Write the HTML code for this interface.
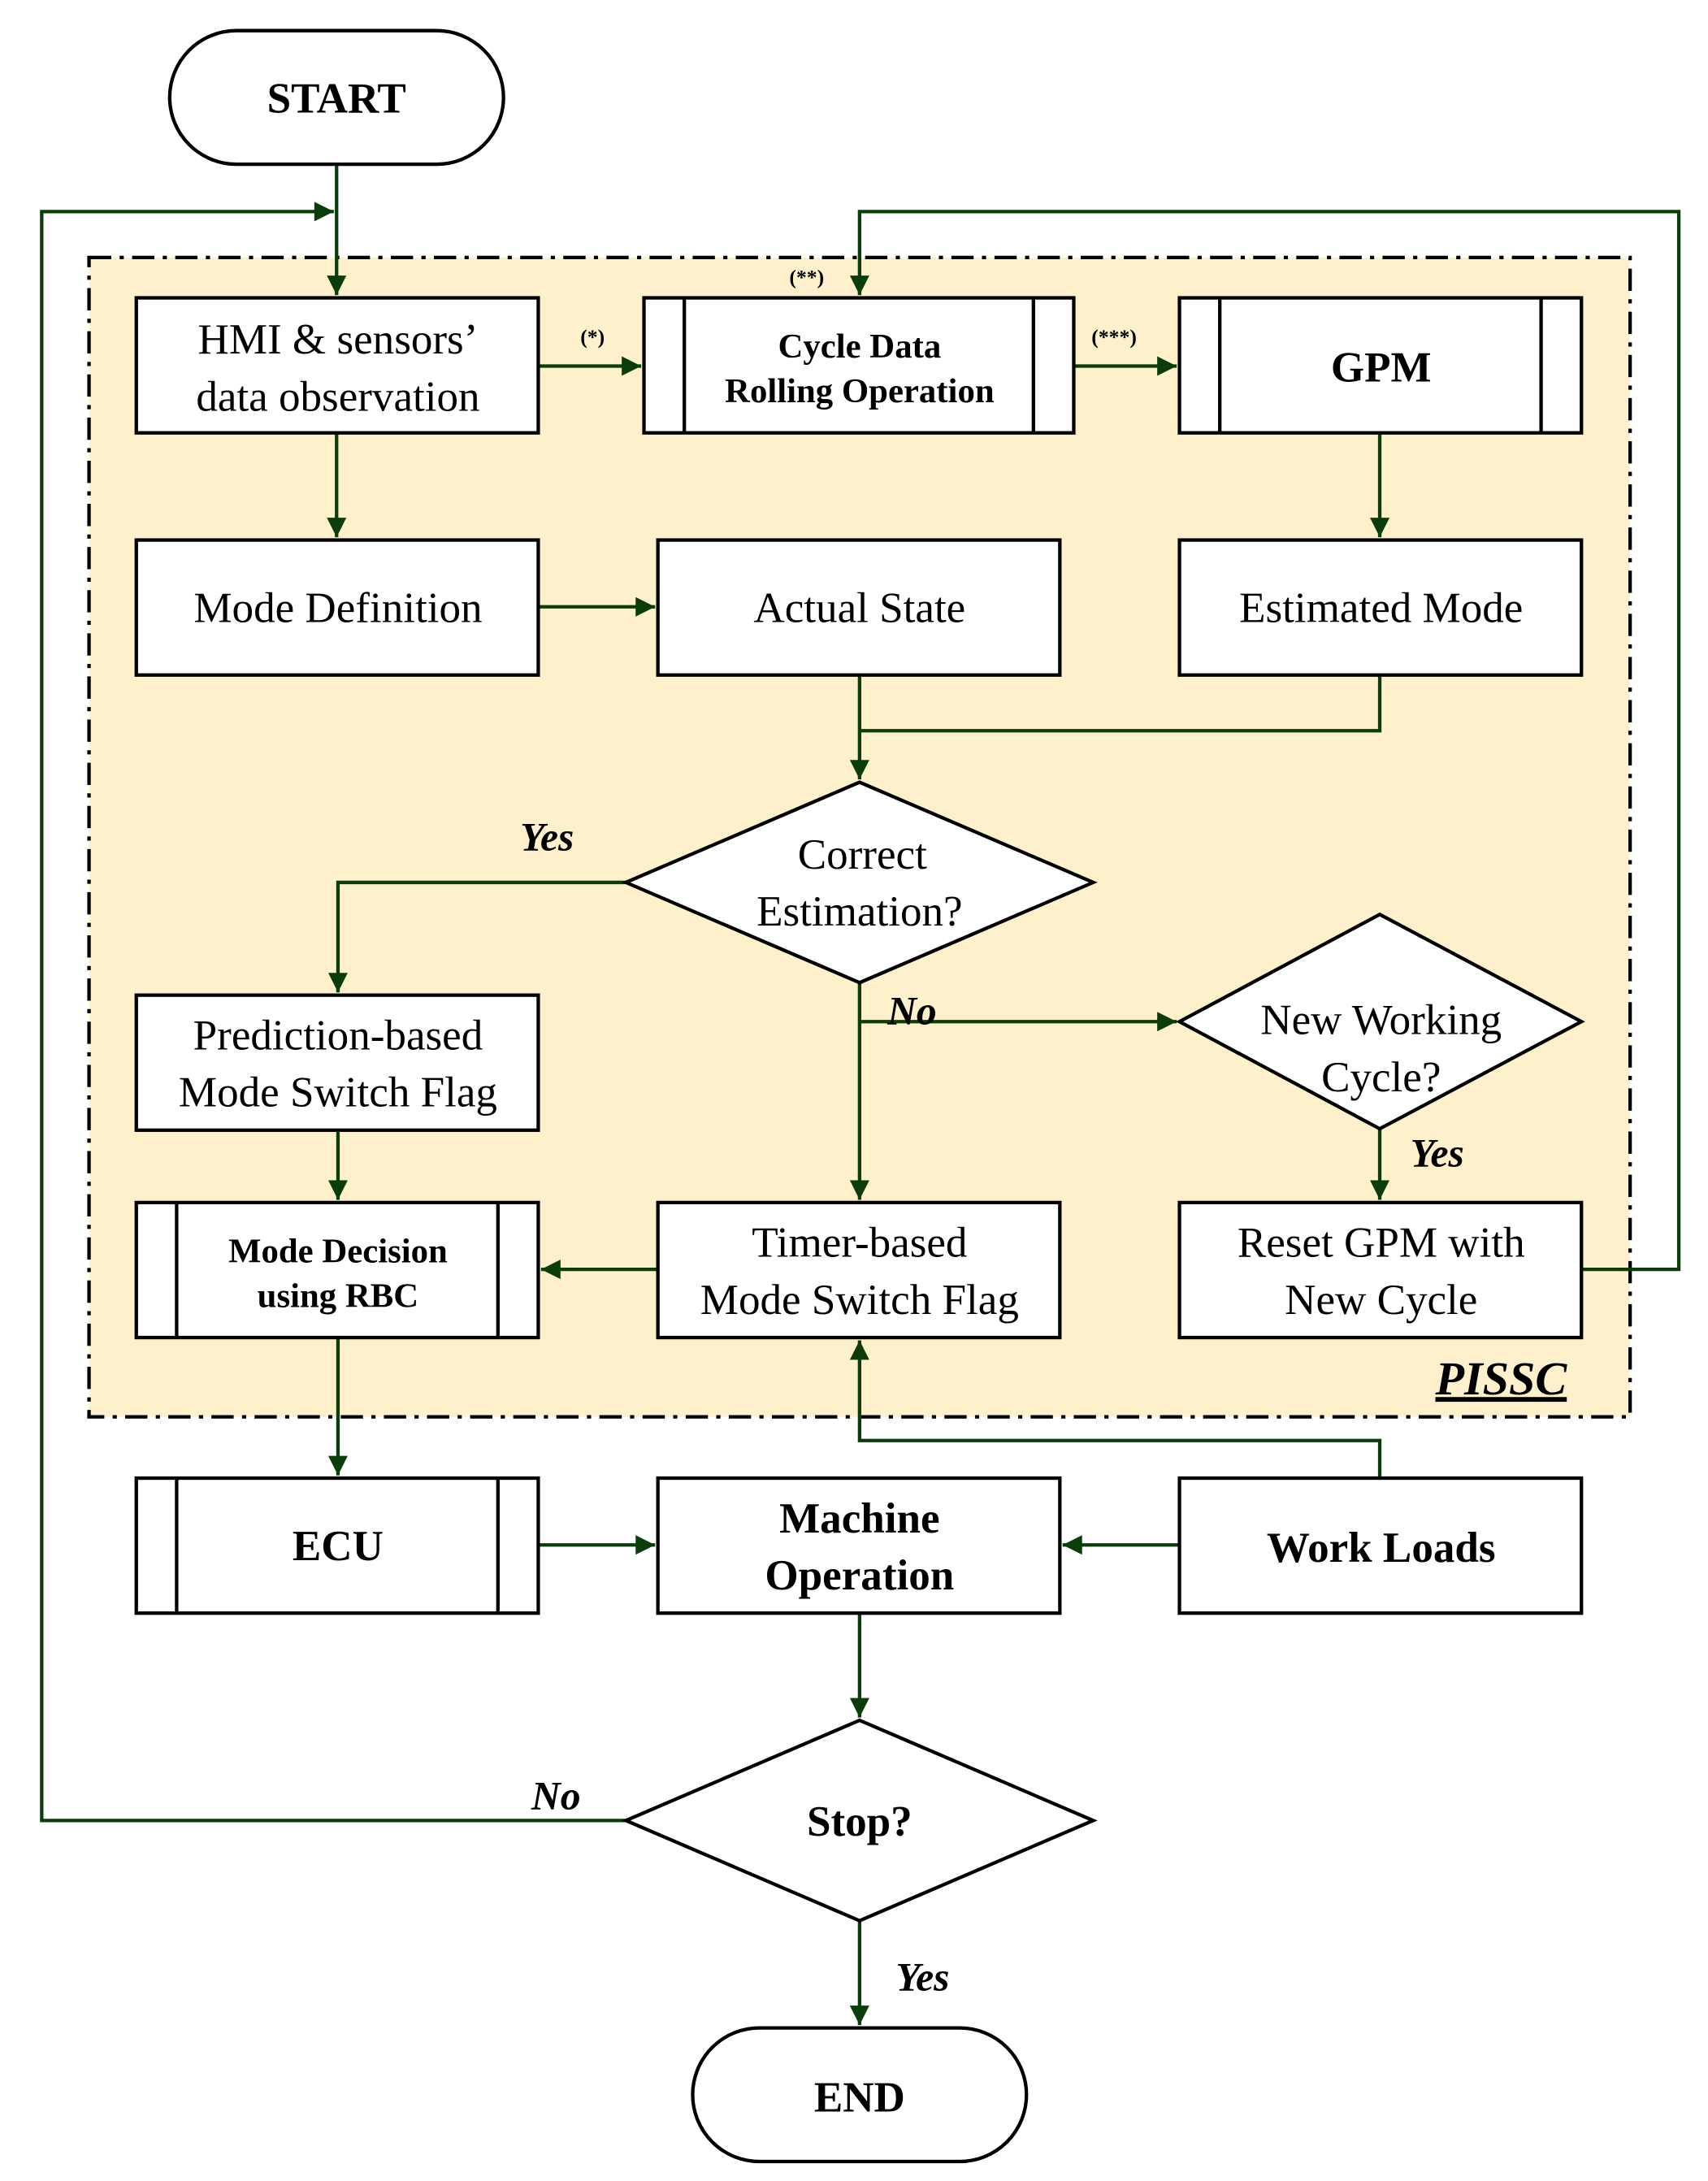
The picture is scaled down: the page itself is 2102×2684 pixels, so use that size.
<!DOCTYPE html>
<html><head><meta charset="utf-8"><style>html,body{margin:0;padding:0;background:#fff}svg{display:block}</style></head>
<body>
<svg width="2102" height="2684" viewBox="0 0 1228 1567" preserveAspectRatio="none" xmlns="http://www.w3.org/2000/svg" font-family="'Liberation Serif', serif">
<defs>
<marker id="b" viewBox="0 0 10 10" refX="10" refY="5" markerWidth="18" markerHeight="14" markerUnits="userSpaceOnUse" orient="auto"><path d="M0,0 L10,5 L0,10 z" fill="#0b3d0b"/></marker>
</defs>
<rect x="64" y="185" width="1108" height="833" fill="#fdf0cb" stroke="#000" stroke-width="2.5" stroke-dasharray="16,6,3,6"/>
<g fill="none" stroke="#0b3d0b" stroke-width="2.5">
<path d="M242,118 V212" marker-end="url(#b)"/>
<path d="M450,1308 H30 V152 H240" marker-end="url(#b)"/>
<path d="M387,263 H461" marker-end="url(#b)"/>
<path d="M772,263 H846" marker-end="url(#b)"/>
<path d="M1137,912 H1207 V152 H618 V212" marker-end="url(#b)"/>
<path d="M242,311 V386" marker-end="url(#b)"/>
<path d="M992,311 V386" marker-end="url(#b)"/>
<path d="M387,436 H471" marker-end="url(#b)"/>
<path d="M618,485 V560" marker-end="url(#b)"/>
<path d="M992,485 V525 H618"/>
<path d="M450,634 H243 V713" marker-end="url(#b)"/>
<path d="M618,706 V862" marker-end="url(#b)"/>
<path d="M618,734 H846" marker-end="url(#b)"/>
<path d="M992,811 V862" marker-end="url(#b)"/>
<path d="M243,812 V862" marker-end="url(#b)"/>
<path d="M473,912 H389" marker-end="url(#b)"/>
<path d="M243,961 V1060" marker-end="url(#b)"/>
<path d="M387,1110 H471" marker-end="url(#b)"/>
<path d="M848,1110 H764" marker-end="url(#b)"/>
<path d="M992,1062 V1035 H618 V963" marker-end="url(#b)"/>
<path d="M618,1159 V1234" marker-end="url(#b)"/>
<path d="M618,1380 V1455" marker-end="url(#b)"/>
</g>
<g fill="#fff" stroke="#000" stroke-width="2.5">
<rect x="122" y="22" width="240" height="96" rx="48"/>
<rect x="498" y="1457" width="240" height="96" rx="48"/>
<rect x="98" y="214" width="289" height="97"/>
<rect x="463" y="214" width="309" height="97"/>
<path d="M492,214 V311 M743,214 V311"/>
<rect x="848" y="214" width="289" height="97"/>
<path d="M877,214 V311 M1108,214 V311"/>
<rect x="98" y="388" width="289" height="97"/>
<rect x="473" y="388" width="289" height="97"/>
<rect x="848" y="388" width="289" height="97"/>
<path d="M618,562 L786,634 L618,706 L450,634 Z"/>
<path d="M992,657 L1137,734 L992,811 L848,734 Z"/>
<rect x="98" y="715" width="289" height="97"/>
<rect x="98" y="864" width="289" height="97"/>
<path d="M127,864 V961 M358,864 V961"/>
<rect x="473" y="864" width="289" height="97"/>
<rect x="848" y="864" width="289" height="97"/>
<rect x="98" y="1062" width="289" height="97"/>
<path d="M127,1062 V1159 M358,1062 V1159"/>
<rect x="473" y="1062" width="289" height="97"/>
<rect x="848" y="1062" width="289" height="97"/>
<path d="M618,1236 L786,1308 L618,1380 L450,1308 Z"/>
</g>
<g text-anchor="middle" fill="#000" font-size="31">
<text x="242" y="81" font-weight="bold">START</text>
<text x="618" y="1517" font-weight="bold">END</text>
<text x="243" y="254">HMI &amp; sensors’</text>
<text x="243" y="295">data observation</text>
<text x="618" y="257" font-size="25" font-weight="bold">Cycle Data</text>
<text x="618" y="289" font-size="25" font-weight="bold">Rolling Operation</text>
<text x="993" y="274" font-weight="bold">GPM</text>
<text x="243" y="447">Mode Definition</text>
<text x="618" y="447">Actual State</text>
<text x="993" y="447">Estimated Mode</text>
<text x="620" y="624">Correct</text>
<text x="618" y="665">Estimation?</text>
<text x="993" y="743">New Working</text>
<text x="993" y="784">Cycle?</text>
<text x="243" y="754">Prediction-based</text>
<text x="243" y="795">Mode Switch Flag</text>
<text x="243" y="907" font-size="25" font-weight="bold">Mode Decision</text>
<text x="243" y="939" font-size="25" font-weight="bold">using RBC</text>
<text x="618" y="903">Timer-based</text>
<text x="618" y="944">Mode Switch Flag</text>
<text x="993" y="903">Reset GPM with</text>
<text x="993" y="944">New Cycle</text>
<text x="243" y="1121" font-weight="bold">ECU</text>
<text x="618" y="1101" font-weight="bold">Machine</text>
<text x="618" y="1142" font-weight="bold">Operation</text>
<text x="993" y="1122" font-weight="bold">Work Loads</text>
<text x="618" y="1319" font-weight="bold">Stop?</text>
</g>
<g fill="#000" font-style="italic" font-weight="bold" font-size="29">
<text x="374" y="611">Yes</text>
<text x="638" y="736">No</text>
<text x="1014" y="838">Yes</text>
<text x="382" y="1300">No</text>
<text x="644" y="1430">Yes</text>
<text x="1032" y="1002" font-size="34" text-decoration="underline">PISSC</text>
</g>
<g fill="#000" font-size="15" font-weight="bold" text-anchor="middle">
<text x="426" y="247">(*)</text>
<text x="580" y="204">(**)</text>
<text x="801" y="247">(***)</text>
</g>
</svg>
</body></html>
